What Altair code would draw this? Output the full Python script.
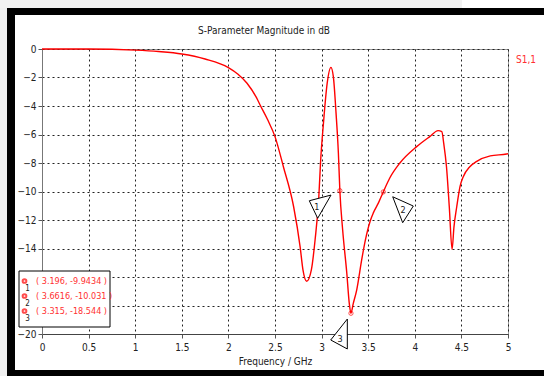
import altair as alt
import pandas as pd

# ---- data ----
freq = [0.0, 0.5, 1.0, 1.25, 1.5, 1.75, 2.0, 2.1, 2.2, 2.3, 2.34, 2.42, 2.5, 2.59, 2.7, 2.77, 2.8, 2.84,
        2.89, 2.93, 2.97, 2.99, 3.02, 3.06, 3.10, 3.126, 3.155, 3.18, 3.196, 3.226, 3.27, 3.297, 3.315,
        3.34, 3.377, 3.43, 3.47, 3.52, 3.555, 3.61, 3.6616, 3.73, 3.84, 4.02, 4.16, 4.25, 4.29, 4.31,
        4.34, 4.37, 4.40, 4.42, 4.45, 4.485, 4.52, 4.59, 4.66, 4.81, 4.985, 5.0]
s11 = [0.0, 0.0, -0.08, -0.18, -0.35, -0.7, -1.3, -1.75, -2.4, -3.4, -3.93, -4.95, -6.15, -8.26, -11.07,
       -13.9, -15.5, -16.3, -15.5, -13.4, -10.4, -7.8, -5.2, -2.4, -1.29, -1.94, -4.5, -7.3, -9.9434,
       -12.7, -15.7, -17.85, -18.544, -17.85, -16.9, -14.8, -13.4, -12.1, -11.5, -10.8, -10.031, -9.07,
       -8.0, -6.85, -6.15, -5.73, -5.8, -6.6, -8.26, -11.07, -14.06, -12.5, -11.07, -9.66, -8.96, -8.26,
       -7.9, -7.5, -7.37, -7.35]

marker_id = [1, 2, 3]
marker_f = [3.196, 3.6616, 3.315]
marker_db = [-9.9434, -10.031, -18.544]
marker_text = ["( 3.196, -9.9434 )", "( 3.6616, -10.031 )", "( 3.315, -18.544 )"]

# marker flag triangles (annotation outlines, in data units)
tri_id = [1, 1, 1, 1, 2, 2, 2, 2, 3, 3, 3, 3]
tri_order = [0, 1, 2, 3] * 3
tri_f = [2.868, 3.101, 2.958, 2.868, 3.763, 3.984, 3.870, 3.763, 3.276, 3.098, 3.276, 3.276]
tri_db = [-10.65, -10.25, -11.88, -10.65, -10.37, -11.02, -12.19, -10.37, -18.95, -20.42, -21.05, -18.95]
flag_f = [2.95, 3.873, 3.197]
flag_db = [-11.1, -11.3, -20.35]

x_ticks = [0, 0.5, 1, 1.5, 2, 2.5, 3, 3.5, 4, 4.5, 5]
y_ticks = [0, -2, -4, -6, -8, -10, -12, -14, -16, -18, -20]

FONT = "'DejaVu Sans Condensed', 'Liberation Sans', sans-serif"

curve_df = pd.DataFrame({"f": freq, "db": s11})
mk_df = pd.DataFrame({"id": marker_id, "f": marker_f, "db": marker_db, "txt": marker_text,
                      "row": [0, 1, 2]})
tri_df = pd.DataFrame({"id": tri_id, "o": tri_order, "f": tri_f, "db": tri_db})
flag_df = pd.DataFrame({"id": [str(i) for i in marker_id], "f": flag_f, "db": flag_db})
one = pd.DataFrame({"a": [0]})

xs = alt.Scale(domain=[0, 5], nice=False)
ys = alt.Scale(domain=[-20, 0], nice=False)
x_axis = alt.Axis(values=x_ticks, labelExpr="datum.value + ''", labelOverlap=False)
# labels -16 and -18 sit behind the marker table in the reference
y_axis = alt.Axis(values=y_ticks, labelOverlap=False,
                  labelExpr="(datum.value > -15 || datum.value < -19) ? datum.label : ''")

X = alt.X("f:Q", scale=xs, title="Frequency / GHz", axis=x_axis)
Y = alt.Y("db:Q", scale=ys, title=None, axis=y_axis)

curve = alt.Chart(curve_df).mark_line(color="#ff0000", strokeWidth=1.4, interpolate="monotone").encode(
    x=X, y=Y)

markers = alt.Chart(mk_df).mark_point(shape="circle", size=18, color="#ff0000", strokeWidth=1,
                                      filled=False).encode(x=X, y=Y)

tris = alt.Chart(tri_df).mark_line(stroke="black", fill="white", strokeWidth=1).encode(
    x=X, y=Y, detail="id:N", order="o:Q")

flags = alt.Chart(flag_df).mark_text(font=FONT, fontSize=9, color="#222").encode(
    x=X, y=Y, text="id:N")

# frame of the window
def rect(x1, x2, y1, y2, color, stroke=None):
    kw = {"color": color}
    if stroke:
        kw = {"fill": color, "stroke": stroke, "strokeWidth": 1}
    return alt.Chart(one).mark_rect(**kw).encode(
        x=alt.value(x1), x2=alt.value(x2), y=alt.value(y1), y2=alt.value(y2))

frame = (rect(-42, -35, -49, 327, "#efefef") + rect(-42, 420, -49, -41, "#f2f2f2") +
         rect(-35, -27, -41, 327, "black") + rect(-35, 502, -41, -34, "black") +
         rect(-35, 502, 321, 327, "black"))

title = alt.Chart(one).mark_text(text="S-Parameter Magnitude in dB", font=FONT, fontSize=10,
                                 color="#222").encode(x=alt.value(222), y=alt.value(-18))
s_label = alt.Chart(one).mark_text(text="S1,1", font=FONT, fontSize=10, color="#ff3030",
                                   align="left").encode(x=alt.value(474), y=alt.value(11))

legend_box = rect(-23, 68, 222, 278, "white", stroke="black")
leg_base = alt.Chart(mk_df).transform_calculate(
    py="232 + 15 * datum.row", pn="240 + 15 * datum.row")
leg_circ = leg_base.mark_point(shape="circle", size=14, color="#ff0000", filled=False).encode(
    x=alt.value(-17.5), y=alt.Y("py:Q", scale=None))
leg_num = leg_base.mark_text(font=FONT, fontSize=8, color="#222").encode(
    x=alt.value(-14.5), y=alt.Y("pn:Q", scale=None), text="id:N")
leg_txt = leg_base.mark_text(font=FONT, fontSize=9, color="#ff3030", align="left").encode(
    x=alt.value(-6), y=alt.Y("py:Q", scale=None), text="txt:N")

chart = alt.layer(frame, curve, markers, tris, flags, title, s_label, legend_box,
                  leg_circ, leg_num, leg_txt).properties(
    width=466, height=285,
    autosize=alt.AutoSizeParams(type="none"),
    padding={"left": 42, "top": 49, "right": 36, "bottom": 42},
    background="white",
).configure_view(stroke="#999", strokeWidth=1).configure_axis(
    labelFont=FONT, labelFontSize=10, labelColor="#222", titleFont=FONT, titleFontSize=10,
    titleColor="#222", titleFontWeight="normal", grid=True, gridColor="#222", gridDash=[2, 3],
    gridWidth=1, tickColor="#555", tickSize=4, domainColor="#777",
).configure_axisX(labelPadding=4, titlePadding=4, labelFlush=False, domainColor="#444"
).configure_axisY(labelPadding=2)

chart.save("out.html", embed_options={"renderer": "svg", "actions": False})
